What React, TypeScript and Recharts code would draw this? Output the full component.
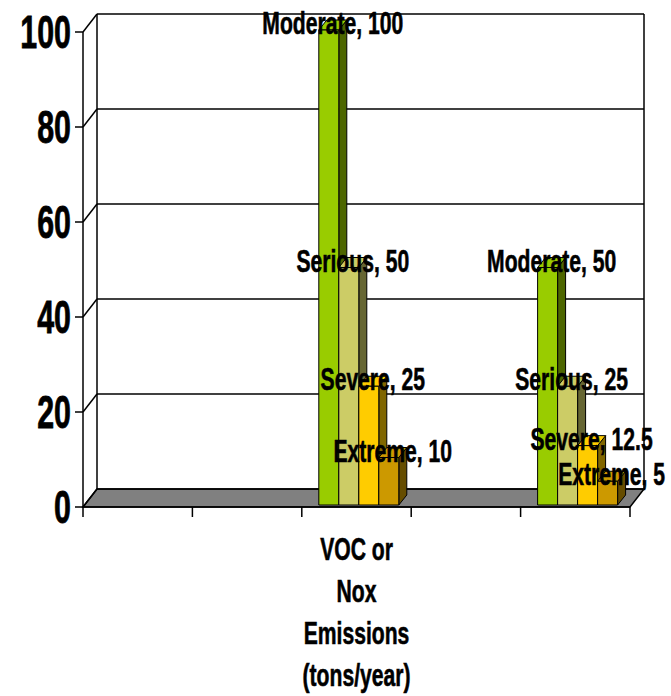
import { BarChart, Bar, XAxis, YAxis, CartesianGrid, LabelList } from "recharts";

const CATEGORIES = ["", "", "VOC or\nNox\nEmissions\n(tons/year)", "", ""];
const SERIES_NAMES = ["Moderate", "Serious", "Severe", "Extreme"];
const MODERATE = [null, null, 100, null, 50];
const SERIOUS = [null, null, 50, null, 25];
const SEVERE = [null, null, 25, null, 12.5];
const EXTREME = [null, null, 10, null, 5];
const Y_TICKS = [0, 20, 40, 60, 80, 100];

const SERIES_VALUES = [MODERATE, SERIOUS, SEVERE, EXTREME];
const KEYS = ["moderate", "serious", "severe", "extreme"];

const data = CATEGORIES.map((label, i) => {
  const row: Record<string, any> = { id: `c${i}`, label };
  KEYS.forEach((k, s) => {
    row[k] = SERIES_VALUES[s][i];
  });
  return row;
});

const COLORS = [
  { front: "#99CC00", side: "#4D6600", top: "#99CC00" },
  { front: "#CCCC66", side: "#666633", top: "#CCCC66" },
  { front: "#FFCC00", side: "#806600", top: "#FFCC00" },
  { front: "#CC9900", side: "#664D00", top: "#CC9900" },
];

// chart geometry
const W = 671;
const H = 696;
const LEFT = 83;
const RIGHT = 41;
const TOP = 32;
const X_AXIS_H = 189;
const PLOT_W = W - LEFT - RIGHT;
const BOTTOM_Y = H - X_AXIS_H;
const WALL_DX = 14;
const WALL_DY = 18;
const BAR_DX = 8;
const BAR_DY = 10;
const SHIFT_X = 2;
const SHIFT_Y = 2;
const FONT = "'Liberation Sans', Arial, sans-serif";
const SQUEEZE = 0.66;

const Bar3D = (props: any) => {
  const { x, y, width, height, colors } = props;
  if (height == null || height <= 0) return null;
  const fx = x + SHIFT_X;
  const fy = y - SHIFT_Y;
  const w = width;
  const h = height;
  return (
    <g stroke="#000" strokeWidth={1} strokeLinejoin="round">
      <polygon
        points={`${fx + w},${fy} ${fx + w + BAR_DX},${fy - BAR_DY} ${fx + w + BAR_DX},${fy + h - BAR_DY} ${fx + w},${fy + h}`}
        fill={colors.side}
      />
      <polygon
        points={`${fx},${fy} ${fx + BAR_DX},${fy - BAR_DY} ${fx + w + BAR_DX},${fy - BAR_DY} ${fx + w},${fy}`}
        fill={colors.top}
      />
      <rect x={fx} y={fy} width={w} height={h} fill={colors.front} />
    </g>
  );
};

const makeLabel = (name: string) => (props: any) => {
  const { x, y, width, value } = props;
  if (value == null) return null;
  const cx = x + SHIFT_X + width / 2 + BAR_DX / 2;
  return (
    <text
      transform={`translate(${cx},${y + 2}) scale(${SQUEEZE},1)`}
      textAnchor="middle"
      fontFamily={FONT}
      fontWeight="bold"
      fontSize={32}
      fill="#000"
      stroke="#000"
      strokeWidth={0.6}
    >
      {`${name}, ${value}`}
    </text>
  );
};

const YTick = (props: any) => {
  const { x, y, payload } = props;
  return (
    <text
      transform={`translate(${x},${y + 16}) scale(${SQUEEZE},1)`}
      textAnchor="end"
      fontFamily={FONT}
      fontWeight="bold"
      fontSize={46}
      fill="#000"
      stroke="#000"
      strokeWidth={0.8}
    >
      {payload.value}
    </text>
  );
};

const XTick = (props: any) => {
  const { x, y, payload, index } = props;
  const half = payload.offset || PLOT_W / CATEGORIES.length / 2;
  const lines = (CATEGORIES[index] || "").split("\n").filter(Boolean);
  return (
    <g>
      <line x1={x - half} y1={y - 10} x2={x - half} y2={y} stroke="#000" strokeWidth={1.5} />
      {index === CATEGORIES.length - 1 && (
        <line x1={x + half} y1={y - 10} x2={x + half} y2={y} stroke="#000" strokeWidth={1.5} />
      )}
      {lines.map((ln, i) => (
        <text
          key={i}
          transform={`translate(${x},${y + 43 + i * 42}) scale(${SQUEEZE},1)`}
          textAnchor="middle"
          fontFamily={FONT}
          fontWeight="bold"
          fontSize={32}
          fill="#000"
          stroke="#000"
          strokeWidth={0.6}
        >
          {ln}
        </text>
      ))}
    </g>
  );
};

const gridLine = (p: any) => {
  const { x1, y1, x2 } = p;
  return (
    <g key={`g-${y1}`} stroke="#000" strokeWidth={1.5}>
      <line x1={x1} y1={y1} x2={x1 + WALL_DX} y2={y1 - WALL_DY} />
      <line x1={x1 + WALL_DX} y1={y1 - WALL_DY} x2={x2 + WALL_DX} y2={y1 - WALL_DY} />
    </g>
  );
};

function Walls() {
  const r = LEFT + PLOT_W;
  return (
    <svg width={W} height={H} style={{ position: "absolute", left: 0, top: 0 }}>
      <line x1={LEFT + WALL_DX} y1={TOP - WALL_DY} x2={LEFT + WALL_DX} y2={BOTTOM_Y - WALL_DY} stroke="#000" strokeWidth={1.5} />
      <line x1={r + WALL_DX} y1={TOP - WALL_DY} x2={r + WALL_DX} y2={BOTTOM_Y - WALL_DY} stroke="#000" strokeWidth={1.5} />
      <polygon
        points={`${LEFT},${BOTTOM_Y} ${r},${BOTTOM_Y} ${r + WALL_DX},${BOTTOM_Y - WALL_DY} ${LEFT + WALL_DX},${BOTTOM_Y - WALL_DY}`}
        fill="#808080"
        stroke="#000"
        strokeWidth={1.5}
      />
    </svg>
  );
}

export default function App() {
  return (
    <div style={{ position: "absolute", left: 0, top: 0, width: W, height: H, background: "#fff" }}>
      <Walls />
      <div style={{ position: "absolute", left: 0, top: 0 }}>
        <BarChart
          width={W}
          height={H}
          data={data}
          margin={{ top: TOP, right: RIGHT, left: 0, bottom: 0 }}
          barGap={0}
          barCategoryGap={15}
        >
          <CartesianGrid vertical={false} horizontal={gridLine} />
          <XAxis
            dataKey="id"
            height={X_AXIS_H}
            interval={0}
            axisLine={{ stroke: "#000", strokeWidth: 1.5 }}
            tickLine={false}
            tickSize={10}
            tickMargin={0}
            tick={<XTick />}
          />
          <YAxis
            width={LEFT}
            domain={[0, 100]}
            ticks={Y_TICKS}
            interval={0}
            axisLine={{ stroke: "#000", strokeWidth: 1.5 }}
            tickLine={{ stroke: "#000", strokeWidth: 1.5 }}
            tickSize={8}
            tickMargin={4}
            tick={<YTick />}
          />
          {KEYS.map((k, s) => (
            <Bar
              key={k}
              dataKey={k}
              name={SERIES_NAMES[s]}
              isAnimationActive={false}
              shape={(p: any) => <Bar3D {...p} colors={COLORS[s]} />}
            >
              <LabelList dataKey={k} content={makeLabel(SERIES_NAMES[s])} />
            </Bar>
          ))}
        </BarChart>
      </div>
    </div>
  );
}
